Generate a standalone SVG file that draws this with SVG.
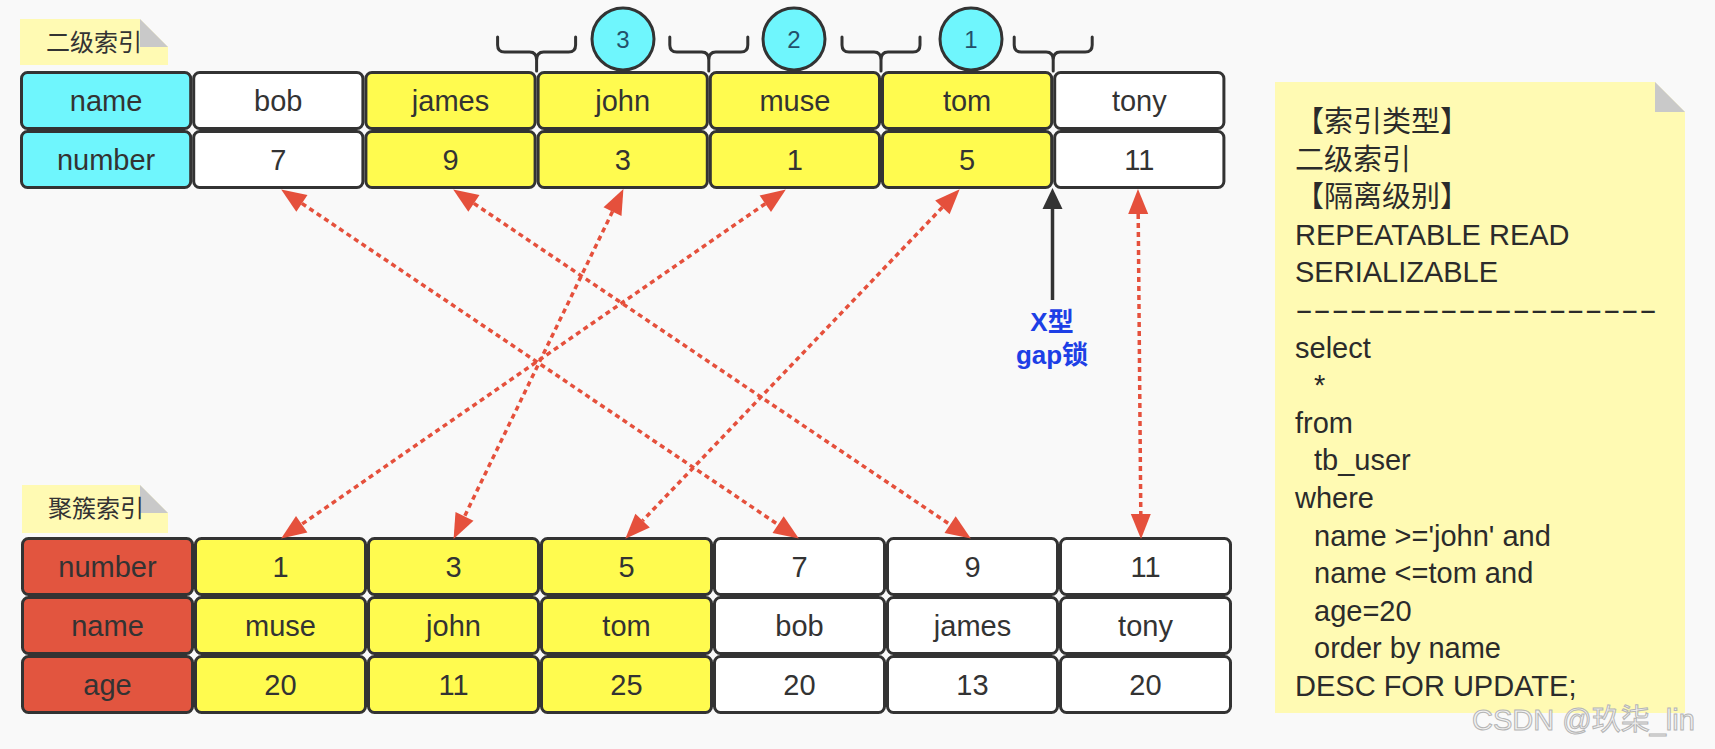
<svg xmlns="http://www.w3.org/2000/svg" width="1715" height="749" viewBox="0 0 1715 749">
<defs>
<style>
.cell{stroke:#333;stroke-width:3}
.cy{fill:#6ff6fd}
.yl{fill:#fffb4f}
.wh{fill:#ffffff}
.rd{fill:#e2553f}
.t{font-family:"Liberation Sans","Noto Sans CJK SC",sans-serif;font-size:29px;fill:#333;text-anchor:middle}
.note{fill:#fffab3}
.fold{fill:#c9c9c9}
.nt{font-family:"Liberation Sans","Noto Sans CJK SC",sans-serif;font-size:24px;fill:#333}
.st{font-family:"Liberation Sans","Noto Sans CJK SC",sans-serif;font-size:29px;fill:#2b2b2b}
.red{stroke:#e5503c;stroke-width:3.5;stroke-dasharray:5 4;fill:none;marker-start:url(#ra);marker-end:url(#ra)}
.brace{fill:none;stroke:#333;stroke-width:3;stroke-linecap:round;stroke-linejoin:round}
.circ{fill:#6ff6fd;stroke:#333;stroke-width:3}
.cn{font-family:"Liberation Sans",sans-serif;font-size:24px;fill:#23506a;text-anchor:middle}
.blue{font-family:"Liberation Sans","Noto Sans CJK SC",sans-serif;font-size:26px;font-weight:bold;fill:#1d3fe6;text-anchor:middle}
.wm{font-family:"Liberation Sans","Noto Sans CJK SC",sans-serif;font-size:29px;fill:#f2f2f2;stroke:#b5b5b5;stroke-width:1}
</style>
<marker id="ra" markerUnits="userSpaceOnUse" markerWidth="30" markerHeight="24" refX="0" refY="0" viewBox="0 -12 26 24" orient="auto-start-reverse">
<path d="M0,-10 L25,0 L0,10 z" fill="#e5503c"/>
</marker>
<marker id="ba" markerUnits="userSpaceOnUse" markerWidth="30" markerHeight="24" refX="0" refY="0" viewBox="0 -12 26 24" orient="auto">
<path d="M0,-10 L21,0 L0,10 z" fill="#333"/>
</marker>
</defs>
<rect x="0" y="0" width="1715" height="749" fill="#f9f9f9"/>

<g id="label-secondary">
<polygon class="note" points="20,19 140,19 168,47 168,65 20,65"/>
<polygon class="fold" points="140,19 140,47 168,47"/>
<text class="nt" x="46" y="51">二级索引</text>
</g>

<g id="label-clustered">
<polygon class="note" points="22,485 140,485 168,513 168,533 22,533"/>
<polygon class="fold" points="140,485 140,513 168,513"/>
<text class="nt" x="48" y="517">聚簇索引</text>
</g>

<g id="secondary-index">
<rect class="cell cy" x="21.5" y="72.5" width="169.2" height="56" rx="6"/>
<rect class="cell cy" x="21.5" y="131.5" width="169.2" height="56" rx="6"/>
<text class="t" x="106.1" y="111">name</text>
<text class="t" x="106.1" y="170">number</text>
<rect class="cell wh" x="193.7" y="72.5" width="169.2" height="56" rx="6"/>
<rect class="cell wh" x="193.7" y="131.5" width="169.2" height="56" rx="6"/>
<text class="t" x="278.3" y="111">bob</text>
<text class="t" x="278.3" y="170">7</text>
<rect class="cell yl" x="365.9" y="72.5" width="169.2" height="56" rx="6"/>
<rect class="cell yl" x="365.9" y="131.5" width="169.2" height="56" rx="6"/>
<text class="t" x="450.5" y="111">james</text>
<text class="t" x="450.5" y="170">9</text>
<rect class="cell yl" x="538.1" y="72.5" width="169.2" height="56" rx="6"/>
<rect class="cell yl" x="538.1" y="131.5" width="169.2" height="56" rx="6"/>
<text class="t" x="622.7" y="111">john</text>
<text class="t" x="622.7" y="170">3</text>
<rect class="cell yl" x="710.3" y="72.5" width="169.2" height="56" rx="6"/>
<rect class="cell yl" x="710.3" y="131.5" width="169.2" height="56" rx="6"/>
<text class="t" x="794.9" y="111">muse</text>
<text class="t" x="794.9" y="170">1</text>
<rect class="cell yl" x="882.5" y="72.5" width="169.2" height="56" rx="6"/>
<rect class="cell yl" x="882.5" y="131.5" width="169.2" height="56" rx="6"/>
<text class="t" x="967.1" y="111">tom</text>
<text class="t" x="967.1" y="170">5</text>
<rect class="cell wh" x="1054.7" y="72.5" width="169.2" height="56" rx="6"/>
<rect class="cell wh" x="1054.7" y="131.5" width="169.2" height="56" rx="6"/>
<text class="t" x="1139.3" y="111">tony</text>
<text class="t" x="1139.3" y="170">11</text>
</g>

<g id="gap-braces">
<path class="brace" d="M497.6,37 V45 Q497.6,52 504.6,52 H529.6 Q536.6,52 536.6,60 Q536.6,52 543.6,52 H568.6 Q575.6,52 575.6,45 V37 M536.6,58 V71"/>
<path class="brace" d="M669.8,37 V45 Q669.8,52 676.8,52 H701.8 Q708.8,52 708.8,60 Q708.8,52 715.8,52 H740.8 Q747.8,52 747.8,45 V37 M708.8,58 V71"/>
<path class="brace" d="M842,37 V45 Q842,52 849,52 H874 Q881,52 881,60 Q881,52 888,52 H913 Q920,52 920,45 V37 M881,58 V71"/>
<path class="brace" d="M1014.2,37 V45 Q1014.2,52 1021.2,52 H1046.2 Q1053.2,52 1053.2,60 Q1053.2,52 1060.2,52 H1085.2 Q1092.2,52 1092.2,45 V37 M1053.2,58 V71"/>
</g>

<g id="order-3">
<circle class="circ" cx="623" cy="39" r="31"/>
<text class="cn" x="623" y="47.5">3</text>
</g>
<g id="order-2">
<circle class="circ" cx="794" cy="39" r="31"/>
<text class="cn" x="794" y="47.5">2</text>
</g>
<g id="order-1">
<circle class="circ" cx="971" cy="39" r="31"/>
<text class="cn" x="971" y="47.5">1</text>
</g>

<g id="clustered-index">
<rect class="cell rd" x="22.5" y="538.5" width="170" height="56" rx="6"/>
<rect class="cell rd" x="22.5" y="597.5" width="170" height="56" rx="6"/>
<rect class="cell rd" x="22.5" y="656.5" width="170" height="56" rx="6"/>
<text class="t" x="107.5" y="577">number</text>
<text class="t" x="107.5" y="636">name</text>
<text class="t" x="107.5" y="695">age</text>
<rect class="cell yl" x="195.5" y="538.5" width="170" height="56" rx="6"/>
<rect class="cell yl" x="195.5" y="597.5" width="170" height="56" rx="6"/>
<rect class="cell yl" x="195.5" y="656.5" width="170" height="56" rx="6"/>
<text class="t" x="280.5" y="577">1</text>
<text class="t" x="280.5" y="636">muse</text>
<text class="t" x="280.5" y="695">20</text>
<rect class="cell yl" x="368.5" y="538.5" width="170" height="56" rx="6"/>
<rect class="cell yl" x="368.5" y="597.5" width="170" height="56" rx="6"/>
<rect class="cell yl" x="368.5" y="656.5" width="170" height="56" rx="6"/>
<text class="t" x="453.5" y="577">3</text>
<text class="t" x="453.5" y="636">john</text>
<text class="t" x="453.5" y="695">11</text>
<rect class="cell yl" x="541.5" y="538.5" width="170" height="56" rx="6"/>
<rect class="cell yl" x="541.5" y="597.5" width="170" height="56" rx="6"/>
<rect class="cell yl" x="541.5" y="656.5" width="170" height="56" rx="6"/>
<text class="t" x="626.5" y="577">5</text>
<text class="t" x="626.5" y="636">tom</text>
<text class="t" x="626.5" y="695">25</text>
<rect class="cell wh" x="714.5" y="538.5" width="170" height="56" rx="6"/>
<rect class="cell wh" x="714.5" y="597.5" width="170" height="56" rx="6"/>
<rect class="cell wh" x="714.5" y="656.5" width="170" height="56" rx="6"/>
<text class="t" x="799.5" y="577">7</text>
<text class="t" x="799.5" y="636">bob</text>
<text class="t" x="799.5" y="695">20</text>
<rect class="cell wh" x="887.5" y="538.5" width="170" height="56" rx="6"/>
<rect class="cell wh" x="887.5" y="597.5" width="170" height="56" rx="6"/>
<rect class="cell wh" x="887.5" y="656.5" width="170" height="56" rx="6"/>
<text class="t" x="972.5" y="577">9</text>
<text class="t" x="972.5" y="636">james</text>
<text class="t" x="972.5" y="695">13</text>
<rect class="cell wh" x="1060.5" y="538.5" width="170" height="56" rx="6"/>
<rect class="cell wh" x="1060.5" y="597.5" width="170" height="56" rx="6"/>
<rect class="cell wh" x="1060.5" y="656.5" width="170" height="56" rx="6"/>
<text class="t" x="1145.5" y="577">11</text>
<text class="t" x="1145.5" y="636">tony</text>
<text class="t" x="1145.5" y="695">20</text>
</g>

<g id="connectors">
<line class="red" x1="301.9" y1="203.4" x2="778.1" y2="524.6"/>
<line class="red" x1="473.9" y1="203.4" x2="950.1" y2="524.6"/>
<line class="red" x1="612.5" y1="211.6" x2="464.5" y2="516.4"/>
<line class="red" x1="765.3" y1="203.7" x2="301.7" y2="524.3"/>
<line class="red" x1="942.4" y1="207.3" x2="642.6" y2="520.7"/>
<line class="red" x1="1138.2" y1="214" x2="1140.8" y2="514"/>
<line x1="1052.5" y1="300" x2="1052.5" y2="209" stroke="#333" stroke-width="3.5" marker-end="url(#ba)"/>
</g>

<g id="gap-lock-label">
<text class="blue" x="1052" y="331">X型</text>
<text class="blue" x="1052" y="364">gap锁</text>
</g>

<g id="sql-note">
<polygon class="note" points="1275,82 1655,82 1685,112 1685,713 1275,713"/>
<polygon class="fold" points="1655,82 1655,112 1685,112"/>
<text class="st" x="1295" y="132">【索引类型】</text>
<text class="st" x="1295" y="169.6">二级索引</text>
<text class="st" x="1295" y="207.2">【隔离级别】</text>
<text class="st" x="1295" y="244.8">REPEATABLE READ</text>
<text class="st" x="1295" y="282.4">SERIALIZABLE</text>
<text class="st" x="1295" y="320" textLength="362" lengthAdjust="spacingAndGlyphs">--------------------</text>
<text class="st" x="1295" y="357.6">select</text>
<text class="st" x="1314" y="395.2">*</text>
<text class="st" x="1295" y="432.8">from</text>
<text class="st" x="1314" y="470.4">tb_user</text>
<text class="st" x="1295" y="508">where</text>
<text class="st" x="1314" y="545.6">name &gt;='john' and</text>
<text class="st" x="1314" y="583.2">name &lt;=tom and</text>
<text class="st" x="1314" y="620.8">age=20</text>
<text class="st" x="1314" y="658.4">order by name</text>
<text class="st" x="1295" y="696">DESC FOR UPDATE;</text>
</g>

<g id="watermark">
<text class="wm" x="1472" y="730">CSDN @玖柒_lin</text>
</g>
</svg>
